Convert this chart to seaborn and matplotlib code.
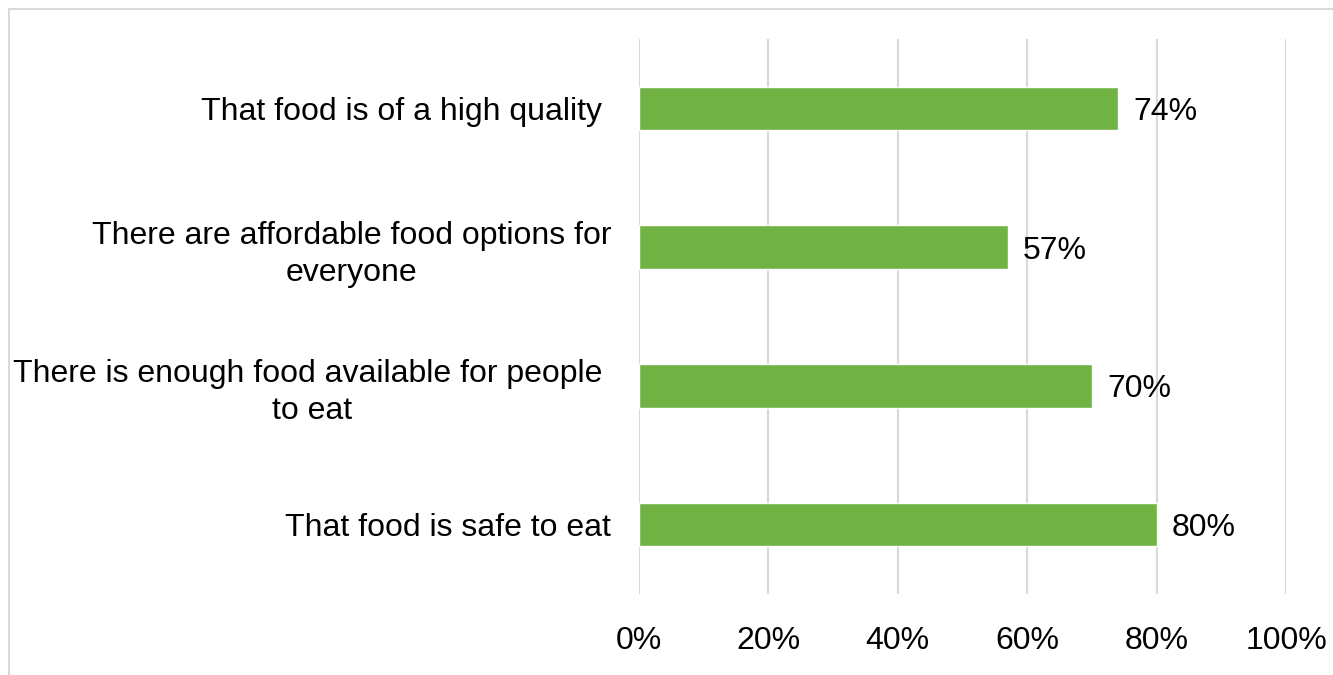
import matplotlib
matplotlib.use("Agg")
import matplotlib.pyplot as plt
import seaborn as sns
import pandas as pd
from matplotlib.lines import Line2D

categories = [
    "That food is of a high quality ",
    "There are affordable food options for\neveryone",
    "There is enough food available for people \nto eat",
    "That food is safe to eat",
]
values = [74, 57, 70, 80]
x_ticks = [0, 20, 40, 60, 80, 100]
x_tick_labels = ["0%", "20%", "40%", "60%", "80%", "100%"]

bar_color = "#70B244"
grid_color = "#D9D9D9"
font_size = 23

sns.set_theme(style="white")
plt.rcParams["font.family"] = ["Liberation Sans", "DejaVu Sans"]
plt.rcParams["text.color"] = "black"
plt.rcParams["xtick.color"] = "black"
plt.rcParams["ytick.color"] = "black"

df = pd.DataFrame({"category": categories, "value": values})

fig = plt.figure(figsize=(13.33, 6.75), dpi=100)
ax = fig.add_axes([639 / 1333, 1 - 594 / 675, (1286 - 639) / 1333, (594 - 39) / 675])

sns.barplot(data=df, x="value", y="category", color=bar_color, width=0.315,
            saturation=1, ax=ax, zorder=3)

ax.set_xlim(0, 100)
ax.set_ylim(3.5, -0.5)
ax.set_xticks(x_ticks)
ax.set_xticklabels(x_tick_labels, fontsize=font_size)
ax.xaxis.grid(True, color=grid_color, linewidth=1.5, zorder=0)
ax.set_axisbelow(True)
ax.tick_params(axis="x", length=0, pad=23)
ax.tick_params(axis="y", length=0, pad=20)
for lbl in ax.get_yticklabels():
    lbl.set_fontsize(font_size)
    lbl.set_multialignment("center")
    lbl.set_linespacing(1.3)
ax.set_xlabel("")
ax.set_ylabel("")
for s in ax.spines.values():
    s.set_visible(False)

for i, v in enumerate(values):
    ax.annotate(f"{v}%", xy=(v, i), xytext=(11, 0), textcoords="offset points",
                va="center_baseline", ha="left", fontsize=font_size, color="black")

# outer frame around the chart area
fig.add_artist(Line2D([9 / 1333, 9 / 1333], [1 - 9 / 675, 0], transform=fig.transFigure,
                      color=grid_color, linewidth=1.5))
fig.add_artist(Line2D([9 / 1333, 1], [1 - 9 / 675, 1 - 9 / 675], transform=fig.transFigure,
                      color=grid_color, linewidth=1.5))

fig.savefig("out.png", dpi=100)
